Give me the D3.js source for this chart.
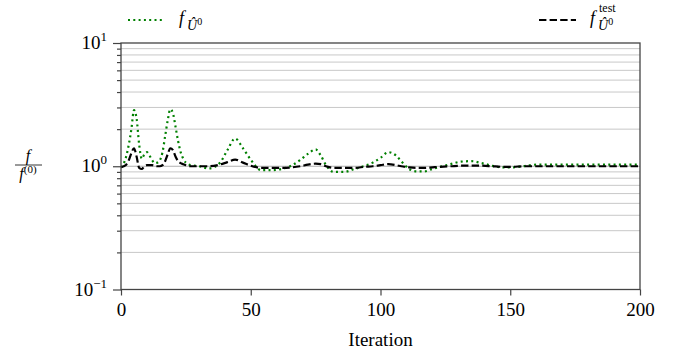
<!DOCTYPE html>
<html>
<head>
<meta charset="utf-8">
<script src="https://cdn.jsdelivr.net/npm/d3@7"></script>
<style>
  body { margin: 0; background: #fff; }
  svg text { font-family: "Liberation Serif", "DejaVu Serif", serif !important; fill: #000; }
</style>
</head>
<body>
<div id="chart"></div>
<script>
const iters = [0,1,2,3,4,5,6,7,8,9,10,11,12,13,14,15,16,17,18,19,20,21,22,23,24,25,27,30,34,38,41,44,47,50,54,58,62,66,69,72,75,77,79,82,86,90,94,97,100,103,106,108,111,114,117,120,123,127,131,135,139,143,147,151,155,160,170,180,190,200];

// f_U0 (green dotted)
const trainVals = [0.98,1.05,1.2,1.5,2.0,2.85,2.45,1.5,1.15,1.25,1.3,1.22,1.12,1.06,1.07,1.12,1.3,1.75,2.35,2.9,2.7,2.1,1.6,1.3,1.15,1.07,1.02,1.0,0.96,1.06,1.35,1.68,1.4,1.13,0.93,0.93,0.95,1.02,1.12,1.26,1.37,1.22,1.02,0.9,0.9,0.95,1.01,1.07,1.17,1.3,1.22,1.1,0.95,0.91,0.91,0.95,0.99,1.04,1.09,1.1,1.06,1.01,0.98,0.98,1.0,1.03,1.03,1.03,1.03,1.03];

// f_U0 test (black dashed)
const testVals = [0.98,1.0,1.03,1.12,1.28,1.4,1.2,0.97,0.95,1.0,1.02,1.02,1.02,1.01,1.0,1.0,1.02,1.1,1.25,1.4,1.35,1.2,1.1,1.06,1.04,1.02,1.0,1.0,1.0,1.03,1.08,1.13,1.07,1.01,0.97,0.97,0.97,0.98,1.0,1.03,1.05,1.04,1.0,0.97,0.97,0.97,0.99,1.0,1.02,1.04,1.02,1.0,0.98,0.97,0.97,0.98,0.99,1.0,1.01,1.01,1.01,1.0,0.99,0.99,1.0,1.0,1.0,1.0,1.0,1.0];

const xTicks = [0, 50, 100, 150, 200];
const yMajor = [0.1, 1, 10];
const yExp = [-1, 0, 1];

const width = 683, height = 358;
const margin = { top: 43, right: 43, bottom: 68.5, left: 121 };
const serif = '"Liberation Serif", "DejaVu Serif", serif';

const svg = d3.select('#chart').append('svg')
  .attr('width', width)
  .attr('height', height)
  .style('font-family', serif);

const x = d3.scaleLinear().domain([0, 200]).range([margin.left, width - margin.right]);
const y = d3.scaleLog().domain([0.1, 10]).range([height - margin.bottom, margin.top]);

// minor values for grid + ticks
const yMinor = [];
[0.1, 1].forEach(b => { for (let k = 2; k <= 9; k++) yMinor.push(b * k); });

// gridlines
svg.append('g').selectAll('line')
  .data(yMinor)
  .enter().append('line')
  .attr('x1', x(0)).attr('x2', x(200))
  .attr('y1', d => y(d)).attr('y2', d => y(d))
  .style('stroke', '#c8c8c8')
  .style('stroke-width', 1);

svg.append('line')
  .attr('x1', x(0)).attr('x2', x(200))
  .attr('y1', y(1)).attr('y2', y(1))
  .style('stroke', '#b0b0b0')
  .style('stroke-width', 1);

// series
const series = [
  { vals: trainVals, color: 'green', dash: '2,3.3' },
  { vals: testVals, color: '#000', dash: '7.4,3.2' }
];
const line = d3.line()
  .x(d => x(d[0]))
  .y(d => y(d[1]))
  .curve(d3.curveMonotoneX);

series.forEach(s => {
  svg.append('path')
    .datum(iters.map((it, i) => [it, s.vals[i]]))
    .attr('d', line)
    .style('fill', 'none')
    .style('stroke', s.color)
    .style('stroke-width', 2.2)
    .style('stroke-dasharray', s.dash);
});

// axes
const xAxis = svg.append('g')
  .attr('transform', `translate(0,${y(0.1)})`)
  .call(d3.axisBottom(x).tickValues(xTicks).tickSize(6).tickPadding(7));
xAxis.attr('font-family', null);
xAxis.selectAll('text').style('font-size', '19px').style('font-family', serif);

const yAxis = svg.append('g')
  .attr('transform', `translate(${x(0)},0)`)
  .call(d3.axisLeft(y).tickValues(yMajor).tickSize(8).tickFormat(''));
const yMinAxis = svg.append('g')
  .attr('transform', `translate(${x(0)},0)`)
  .call(d3.axisLeft(y).tickValues(yMinor).tickSize(4).tickFormat(''));

[xAxis, yAxis, yMinAxis].forEach(a => a.select('.domain').remove());
svg.selectAll('.tick line').style('stroke', '#444').style('stroke-width', 1.2);

// frame
svg.append('rect')
  .attr('x', x(0)).attr('y', y(10))
  .attr('width', x(200) - x(0)).attr('height', y(0.1) - y(10))
  .style('fill', 'none')
  .style('stroke', '#444')
  .style('stroke-width', 1.3);

// y tick labels 10^n
const yl = svg.append('g').selectAll('text')
  .data(yMajor)
  .enter().append('text')
  .attr('x', x(0) - 14)
  .attr('y', d => y(d) + 6)
  .attr('text-anchor', 'end')
  .style('font-size', '19px');
yl.append('tspan').text('10');
yl.append('tspan').attr('dy', -8).style('font-size', '13px').text((d, i) => yExp[i] < 0 ? '\u2212' + Math.abs(yExp[i]) : yExp[i]);

// x label
svg.append('text')
  .attr('x', (x(0) + x(200)) / 2)
  .attr('y', 346)
  .attr('text-anchor', 'middle')
  .style('font-size', '19px')
  .text('Iteration');

// y label as fraction
const fy = 165;
svg.append('text')
  .attr('x', 28).attr('y', fy - 4)
  .attr('text-anchor', 'middle')
  .style('font-size', '16px').style('font-style', 'italic')
  .text('f');
svg.append('line')
  .attr('x1', 15).attr('x2', 42)
  .attr('y1', fy).attr('y2', fy)
  .style('stroke', '#000').style('stroke-width', 0.8);
const den = svg.append('text')
  .attr('x', 28).attr('y', fy + 14)
  .attr('text-anchor', 'middle')
  .style('font-size', '16px');
den.append('tspan').style('font-style', 'italic').text('f');
den.append('tspan').attr('dy', -6).style('font-size', '11px').text('(0)');

// legend
const legend = [
  { x1: 128, x2: 164, tx: 179, color: 'green', dash: '2,3.3', test: false },
  { x1: 539, x2: 576, tx: 590, color: '#000', dash: '7.4,3.2', test: true }
];
const ly = 20;
legend.forEach(l => {
  svg.append('line')
    .attr('x1', l.x1).attr('x2', l.x2)
    .attr('y1', ly).attr('y2', ly)
    .style('stroke', l.color)
    .style('stroke-width', 2.2)
    .style('stroke-dasharray', l.dash);
  svg.append('text').attr('x', l.tx).attr('y', ly + 4)
    .style('font-size', '18px').style('font-style', 'italic').text('f');
  if (l.test) {
    svg.append('text').attr('x', l.tx + 9).attr('y', ly - 8)
      .style('font-size', '12px').text('test');
  }
  const sub = svg.append('text').attr('x', l.tx + 8).attr('y', ly + 10).style('font-size', '14px');
  sub.append('tspan').style('font-style', 'italic').text('\u00DB');
  sub.append('tspan').attr('dy', -5).style('font-size', '10px').text('0');
});
</script>
</body>
</html>
